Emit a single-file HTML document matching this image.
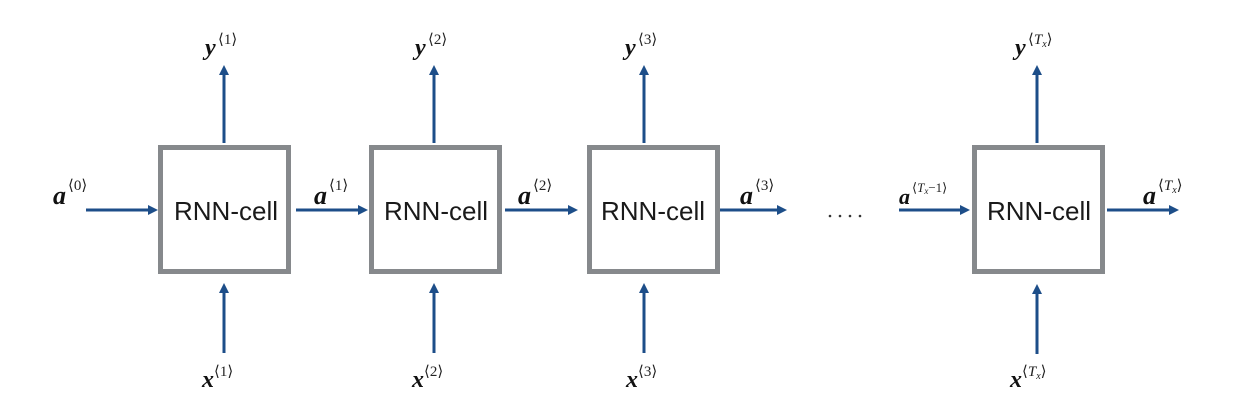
<!DOCTYPE html>
<html><head><meta charset="utf-8"><style>
html,body{margin:0;padding:0;background:#fff;}
svg{display:block;}
.m{font-family:"Liberation Serif",serif;font-style:italic;font-weight:bold;fill:#111;}
.s{font-family:"Liberation Serif",serif;fill:#222;}
.c{font-family:"Liberation Sans",sans-serif;font-size:26px;fill:#1a1a1a;}
</style></head><body>
<svg width="1249" height="406" viewBox="0 0 1249 406" xmlns="http://www.w3.org/2000/svg">
<defs>
<marker id="ah" markerWidth="10" markerHeight="10" refX="0" refY="5" orient="auto" markerUnits="userSpaceOnUse">
<path d="M0,0 L10,5 L0,10 z" fill="#1d4e89"/>
</marker>
</defs>
<g fill="#fff" stroke="#86898c" stroke-width="5">
<rect x="160.5" y="147.5" width="128" height="124"/>
<rect x="371.5" y="147.5" width="128" height="124"/>
<rect x="589.5" y="147.5" width="128" height="124"/>
<rect x="974.5" y="147.5" width="128" height="124"/>
</g>
<g class="c" text-anchor="middle">
<text x="226" y="220">RNN-cell</text>
<text x="436" y="220">RNN-cell</text>
<text x="653" y="220">RNN-cell</text>
<text x="1039" y="220">RNN-cell</text>
</g>
<g stroke="#1d4e89" stroke-width="3" marker-end="url(#ah)">
<line x1="86" y1="210" x2="148" y2="210"/>
<line x1="296" y1="210" x2="358" y2="210"/>
<line x1="505" y1="210" x2="568" y2="210"/>
<line x1="720" y1="210" x2="777" y2="210"/>
<line x1="899" y1="210" x2="960" y2="210"/>
<line x1="1107" y1="210" x2="1169" y2="210"/>
<line x1="224" y1="143" x2="224" y2="75"/>
<line x1="434" y1="143" x2="434" y2="75"/>
<line x1="644" y1="143" x2="644" y2="75"/>
<line x1="1037" y1="143" x2="1037" y2="75"/>
<line x1="224" y1="353" x2="224" y2="293"/>
<line x1="434" y1="353" x2="434" y2="293"/>
<line x1="644" y1="353" x2="644" y2="293"/>
<line x1="1037" y1="354" x2="1037" y2="294"/>
</g>
<text class="m" x="205" y="55" font-size="24">y</text><text class="s" x="218" y="44" font-size="15">⟨1⟩</text>
<text class="m" x="415" y="55" font-size="24">y</text><text class="s" x="428" y="44" font-size="15">⟨2⟩</text>
<text class="m" x="625" y="55" font-size="24">y</text><text class="s" x="638" y="44" font-size="15">⟨3⟩</text>
<text class="m" x="1015" y="55" font-size="24">y</text><text class="s" x="1028" y="44" font-size="15">⟨<tspan font-style="italic">T</tspan><tspan font-style="italic" font-size="10" dy="3">x</tspan><tspan dy="-3">⟩</tspan></text>
<text class="m" x="202" y="387" font-size="24">x</text><text class="s" x="214" y="376" font-size="15">⟨1⟩</text>
<text class="m" x="412" y="387" font-size="24">x</text><text class="s" x="424" y="376" font-size="15">⟨2⟩</text>
<text class="m" x="626" y="387" font-size="24">x</text><text class="s" x="638" y="376" font-size="15">⟨3⟩</text>
<text class="m" x="1010" y="387" font-size="24">x</text><text class="s" x="1022" y="376" font-size="15">⟨<tspan font-style="italic">T</tspan><tspan font-style="italic" font-size="10" dy="3">x</tspan><tspan dy="-3">⟩</tspan></text>
<text class="m" x="53" y="204" font-size="26">a</text><text class="s" x="68" y="190" font-size="15">⟨0⟩</text>
<text class="m" x="314" y="204" font-size="26">a</text><text class="s" x="329" y="190" font-size="15">⟨1⟩</text>
<text class="m" x="518" y="204" font-size="26">a</text><text class="s" x="533" y="190" font-size="15">⟨2⟩</text>
<text class="m" x="740" y="204" font-size="26">a</text><text class="s" x="755" y="190" font-size="15">⟨3⟩</text>
<text class="m" x="899" y="204" font-size="22">a</text><text class="s" x="912" y="192" font-size="13">⟨<tspan font-style="italic">T</tspan><tspan font-style="italic" font-size="9" dy="2">x</tspan><tspan dy="-2">−1⟩</tspan></text>
<text class="m" x="1143" y="204" font-size="26">a</text><text class="s" x="1158" y="190" font-size="15">⟨<tspan font-style="italic">T</tspan><tspan font-style="italic" font-size="10" dy="3">x</tspan><tspan dy="-3">⟩</tspan></text>
<g fill="#333"><circle cx="830" cy="216" r="1.3"/><circle cx="840" cy="216" r="1.3"/><circle cx="850" cy="216" r="1.3"/><circle cx="860" cy="216" r="1.3"/></g>
</svg>
</body></html>
